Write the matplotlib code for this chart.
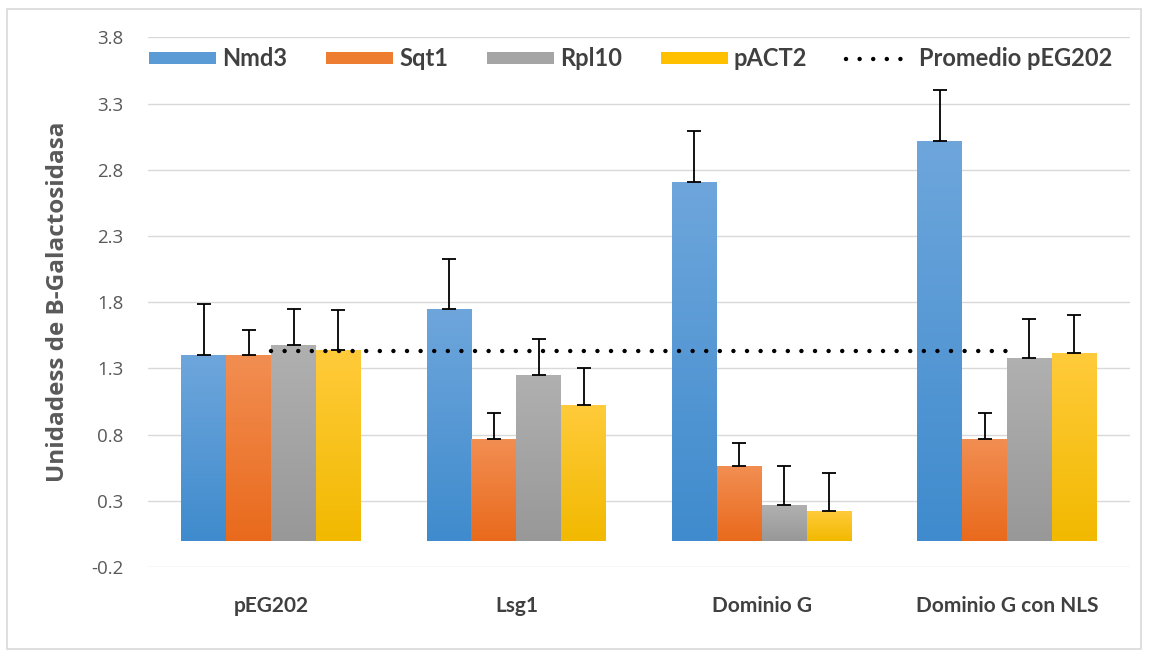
import numpy as np
import matplotlib
matplotlib.use("Agg")
import matplotlib.pyplot as plt
from matplotlib.patches import Rectangle
from matplotlib.colors import LinearSegmentedColormap

# Datos
categorias = ["pEG202", "Lsg1", "Dominio G", "Dominio G con NLS"]
series = ["Nmd3", "Sqt1", "Rpl10", "pACT2"]
nmd3 = [1.40, 1.75, 2.71, 3.02]
sqt1 = [1.40, 0.77, 0.56, 0.77]
rpl10 = [1.48, 1.25, 0.27, 1.38]
pact2 = [1.44, 1.02, 0.22, 1.415]
err_nmd3 = [0.39, 0.38, 0.38, 0.38]
err_sqt1 = [0.19, 0.19, 0.18, 0.19]
err_rpl10 = [0.27, 0.27, 0.29, 0.29]
err_pact2 = [0.30, 0.28, 0.29, 0.29]
promedio = [1.43, 1.43, 1.43, 1.43]
yticks = [-0.2, 0.3, 0.8, 1.3, 1.8, 2.3, 2.8, 3.3, 3.8]

valores = [nmd3, sqt1, rpl10, pact2]
errores = [err_nmd3, err_sqt1, err_rpl10, err_pact2]
colores = ["#5B9BD5", "#ED7D31", "#A5A5A5", "#FFC000"]
# degradado (arriba, abajo)
degradados = [("#6EA6DC", "#3F8BCD"), ("#F28E52", "#E96A1C"),
              ("#B0B0B0", "#989898"), ("#FFCB3A", "#F2B900")]

fig = plt.figure(figsize=(11.49, 6.56), dpi=100)
ax = fig.add_axes([148.4 / 1149, 1 - 567 / 656, (1129.7 - 148.4) / 1149, (567 - 37.4) / 656])

# marco exterior
fig.patches.append(Rectangle((7 / 1149, 1 - 649 / 656), 1134 / 1149, 640 / 656,
                             transform=fig.transFigure, fill=False,
                             edgecolor="#D9D9D9", linewidth=1.2))

x = np.arange(len(categorias))
ancho = 0.183
grad = np.linspace(0, 1, 256).reshape(-1, 1)
for i in range(4):
    pos = x + (i - 1.5) * ancho
    barras = ax.bar(pos, valores[i], ancho, color=colores[i], label=series[i], zorder=2)
    cmap = LinearSegmentedColormap.from_list("g%d" % i, [degradados[i][1], degradados[i][0]])
    for b in barras:
        x0, y0 = b.get_x(), b.get_y()
        im = ax.imshow(grad, cmap=cmap, aspect="auto", origin="lower",
                       extent=[x0, x0 + b.get_width(), y0, y0 + b.get_height()], zorder=2.1)
        im.set_clip_path(b)
    ax.errorbar(pos, valores[i], yerr=[np.zeros(4), errores[i]], fmt="none",
                ecolor="black", elinewidth=1.3, capsize=4.8, capthick=1.3, zorder=3)

ax.plot(x, promedio, color="black", linestyle=(0, (0.01, 3.05)), linewidth=3.2,
        dash_capstyle="round", label="Promedio pEG202", zorder=4)

ax.set_xlim(-0.5, 3.5)
ax.set_ylim(-0.2, 3.8)
ax.set_yticks(yticks)
ax.set_yticklabels([("%.1f" % v) for v in yticks])
ax.set_xticks(x)
ax.set_xticklabels(categorias, fontsize=15, fontweight="bold", color="#404040", family="Lato")
ax.tick_params(axis="y", length=0, labelsize=13.5, labelcolor="#595959", pad=18)
ax.tick_params(axis="x", length=0, pad=21)
for t in ax.get_yticklabels():
    t.set_family("Open Sans")
ax.grid(axis="y", color="#D9D9D9", linewidth=1)
ax.set_axisbelow(True)
for s in ax.spines.values():
    s.set_visible(False)

ax.set_ylabel("Unidadess de B-Galactosidasa", fontsize=17.5, fontweight="bold",
              color="#595959", family="Open Sans", labelpad=15)

handles, labels = ax.get_legend_handles_labels()
orden = [1, 2, 3, 4, 0]
leg = ax.legend([handles[k] for k in orden], [labels[k] for k in orden], ncol=5,
                loc="upper left", bbox_to_anchor=(-0.004, 0.99), frameon=False,
                prop={"family": "Lato", "weight": "bold", "size": 17},
                handlelength=2.84, handleheight=0.45, handletextpad=0.25, columnspacing=1.65,
                borderaxespad=0.0, borderpad=0.2)
for t in leg.get_texts():
    t.set_color("#404040")

fig.savefig("out.png", dpi=100)
